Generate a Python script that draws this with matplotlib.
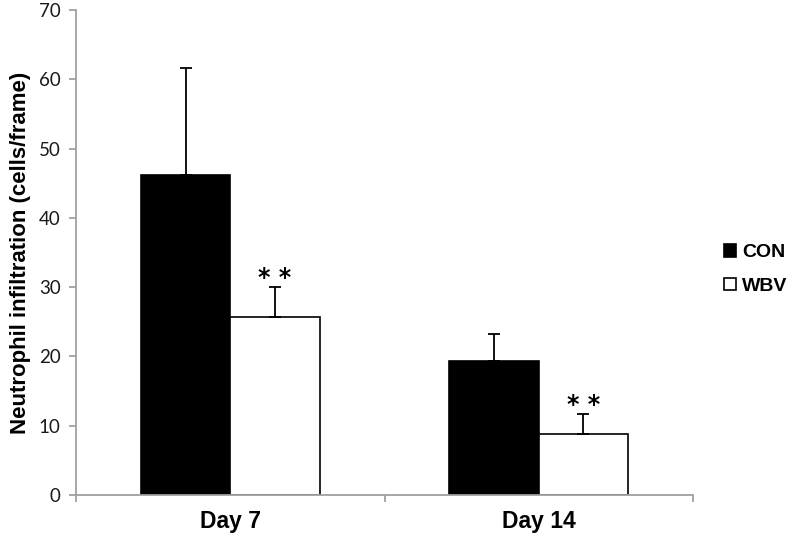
import matplotlib.pyplot as plt
import numpy as np

days = ["Day 7", "Day 14"]
groups = ["CON", "WBV"]
con_mean = [46.2, 19.3]
con_sd = [15.4, 3.9]
wbv_mean = [25.7, 8.8]
wbv_sd = [4.3, 2.9]
sig = ["* *", "* *"]

fig = plt.figure(figsize=(7.91, 5.41), dpi=100)
ax = fig.add_axes([0.0961, 0.085, 0.78, 0.8965])

x = np.arange(len(days))
w = 0.29
ax.bar(x - w/2, con_mean, w, color="black", edgecolor="black", linewidth=1.2, label=groups[0], zorder=2)
ax.bar(x + w/2, wbv_mean, w, color="white", edgecolor="black", linewidth=1.2, label=groups[1], zorder=2)
lo = [0, 0]
ax.errorbar(x - w/2, con_mean, yerr=[lo, con_sd], fmt="none", ecolor="black",
            elinewidth=1.3, capsize=4, capthick=1.3, zorder=3)
ax.errorbar(x + w/2, wbv_mean, yerr=[lo, wbv_sd], fmt="none", ecolor="black",
            elinewidth=1.3, capsize=4, capthick=1.3, zorder=3)
for i in range(len(days)):
    ax.text(x[i] + w/2, wbv_mean[i] + wbv_sd[i] + 1.3, sig[i], ha="center", va="center",
            fontsize=17, fontweight="bold", family="DejaVu Sans")

ax.set_xlim(-0.5, 1.5)
ax.set_ylim(0, 70)
ax.set_yticks(range(0, 71, 10))
ax.set_yticklabels([str(v) for v in range(0, 71, 10)], family="Lato", fontsize=13.5, color="#1a1a1a")
ax.set_xticks([-0.5, 0.5, 1.5])
ax.set_xticklabels([])
ax.set_xticks(x, minor=True)
ax.set_xticklabels(days, minor=True, fontsize=16.5, fontweight="bold", family="Liberation Sans")
ax.tick_params(axis="x", which="minor", length=0, pad=11)
ax.tick_params(axis="x", which="major", length=5, color="#a0a0a0", width=1.3)
ax.tick_params(axis="y", length=5, color="#a0a0a0", width=1.3, pad=6)
for s in ["top", "right"]:
    ax.spines[s].set_visible(False)
for s in ["left", "bottom"]:
    ax.spines[s].set_color("#a0a0a0")
    ax.spines[s].set_linewidth(1.3)
ax.set_ylabel("Neutrophil infiltration (cells/frame)", fontsize=16, fontweight="bold",
              family="Liberation Sans", labelpad=6)

ax.legend(loc="center left", bbox_to_anchor=(1.051, 0.465), frameon=False,
          prop={"family": "Liberation Sans", "weight": "bold", "size": 14},
          handlelength=0.6, handleheight=0.6, handletextpad=0.3, labelspacing=0.85,
          borderpad=0, borderaxespad=0)

fig.savefig("out.png", dpi=100)
